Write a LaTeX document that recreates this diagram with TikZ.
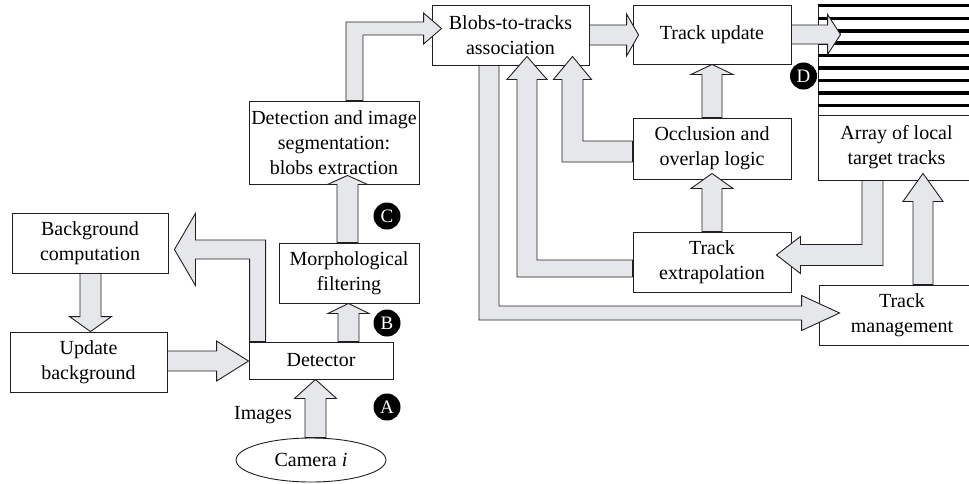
\documentclass[tikz,border=0pt]{standalone}
\usepackage{fontspec}
\setmainfont{Liberation Serif}
\usetikzlibrary{calc,shapes.geometric}

\definecolor{arrowfill}{RGB}{230,231,235}
\definecolor{ink}{RGB}{35,31,32}

% Fat block arrows, built as outlined polygons.
% #1 start point, #2 tip point, then half widths and head length.
\newcommand\fatup[5]{%
  \filldraw[fat] let \p1=(#1), \p2=(#2) in
    (\x1-#3,\y1) -- (\x1-#3,\y2-#5) -- (\x1-#4,\y2-#5) -- (\x1,\y2)
    -- (\x1+#4,\y2-#5) -- (\x1+#3,\y2-#5) -- (\x1+#3,\y1) -- cycle;}
\newcommand\fatdown[5]{%
  \filldraw[fat] let \p1=(#1), \p2=(#2) in
    (\x1-#3,\y1) -- (\x1-#3,\y2+#5) -- (\x1-#4,\y2+#5) -- (\x1,\y2)
    -- (\x1+#4,\y2+#5) -- (\x1+#3,\y2+#5) -- (\x1+#3,\y1) -- cycle;}
\newcommand\fatright[5]{%
  \filldraw[fat] let \p1=(#1), \p2=(#2) in
    (\x1,\y1+#3) -- (\x2-#5,\y1+#3) -- (\x2-#5,\y1+#4) -- (\x2,\y1)
    -- (\x2-#5,\y1-#4) -- (\x2-#5,\y1-#3) -- (\x1,\y1-#3) -- cycle;}
% bent arrows: #3 first leg half width, #4 second leg half width,
% #5 head half width, #6 head length
\newcommand\fatupright[6]{%
  \filldraw[fat] let \p1=(#1), \p2=(#2) in
    (\x1-#3,\y1) -- (\x1-#3,\y2+#4) -- (\x2-#6,\y2+#4) -- (\x2-#6,\y2+#5)
    -- (\x2,\y2) -- (\x2-#6,\y2-#5) -- (\x2-#6,\y2-#4) -- (\x1+#3,\y2-#4)
    -- (\x1+#3,\y1) -- cycle;}
\newcommand\fatupleft[6]{%
  \filldraw[fat] let \p1=(#1), \p2=(#2) in
    (\x1+#3,\y1) -- (\x1+#3,\y2+#4) -- (\x2+#6,\y2+#4) -- (\x2+#6,\y2+#5)
    -- (\x2,\y2) -- (\x2+#6,\y2-#5) -- (\x2+#6,\y2-#4) -- (\x1-#3,\y2-#4)
    -- (\x1-#3,\y1) -- cycle;}
\newcommand\fatdownright[6]{%
  \filldraw[fat] let \p1=(#1), \p2=(#2) in
    (\x1+#3,\y1) -- (\x1+#3,\y2+#4) -- (\x2-#6,\y2+#4) -- (\x2-#6,\y2+#5)
    -- (\x2,\y2) -- (\x2-#6,\y2-#5) -- (\x2-#6,\y2-#4) -- (\x1-#3,\y2-#4)
    -- (\x1-#3,\y1) -- cycle;}
\newcommand\fatdownleft[6]{%
  \filldraw[fat] let \p1=(#1), \p2=(#2) in
    (\x1-#3,\y1) -- (\x1-#3,\y2+#4) -- (\x2+#6,\y2+#4) -- (\x2+#6,\y2+#5)
    -- (\x2,\y2) -- (\x2+#6,\y2-#5) -- (\x2+#6,\y2-#4) -- (\x1+#3,\y2-#4)
    -- (\x1+#3,\y1) -- cycle;}
\newcommand\fatleftup[6]{%
  \filldraw[fat] let \p1=(#1), \p2=(#2) in
    (\x1,\y1+#3) -- (\x2+#4,\y1+#3) -- (\x2+#4,\y2-#6) -- (\x2+#5,\y2-#6)
    -- (\x2,\y2) -- (\x2-#5,\y2-#6) -- (\x2-#4,\y2-#6) -- (\x2-#4,\y1-#3)
    -- (\x1,\y1-#3) -- cycle;}

\begin{document}
\begin{tikzpicture}[x=1pt,y=-1pt,
  box/.style={draw=ink, line width=0.9pt, fill=white, inner sep=0pt,
    align=center, font=\fontsize{20}{25}\selectfont},
  fat/.style={draw=ink, line width=0.9pt, fill=arrowfill, line join=miter},
  badge/.style={circle, fill=black, text=white, inner sep=0pt,
    minimum size=27pt, font=\fontsize{19}{19}\selectfont},
  stripe/.style={line width=3.2pt, black}]
\useasboundingbox (0,0) rectangle (969,483);
\clip (0,0) rectangle (969,483);

% processing blocks
\node[box, minimum width=157pt, minimum height=60pt] (blobs) at (510.5,35) {Blobs-to-tracks\\association};
\node[box, minimum width=158pt, minimum height=59pt] (upd) at (712,34.5) {Track update};
\node[box, minimum width=157pt, minimum height=110pt] (stripes) at (896.5,60) {};
\node[box, minimum width=157pt, minimum height=65pt] (arr) at (896.5,147.5) {Array of local\\target tracks};
\node[box, minimum width=158pt, minimum height=61pt] (occl) at (712,148.5) {Occlusion and\\overlap logic};
\node[box, minimum width=158pt, minimum height=60pt] (extrap) at (712,262) {Track\\extrapolation};
\node[box, minimum width=166pt, minimum height=60pt] (mgmt) at (902,315) {Track\\management};
\node[box, minimum width=170pt, minimum height=83pt] (seg) at (334,142.5) {Detection and image\\segmentation:\\blobs extraction};
\node[box, minimum width=140pt, minimum height=60pt] (morph) at (349,273) {Morphological\\filtering};
\node[box, minimum width=144pt, minimum height=37pt] (det) at (321,360.5) {Detector};
\node[box, minimum width=156pt, minimum height=60pt] (bgc) at (90,243) {Background\\computation};
\node[box, minimum width=157pt, minimum height=60pt] (ubg) at (88.5,362) {Update\\background};
\node[box, ellipse, minimum width=150pt, minimum height=44pt] (cam) at (311,460) {Camera \textit{i}};
\node[font=\fontsize{20}{25}\selectfont] (imgs) at (263,415) {Images};

% track array stripes
\foreach \s in {6,19,31.5,43.5,56,68.5,81,93.5,106}
  \draw[stripe] ($(stripes.north west)+(0,\s-5)$) -- ($(stripes.north east)+(0,\s-5)$);

% stage markers
\node[badge] (mA) at (387,407) {A};
\node[badge] (mB) at (387,323) {B};
\node[badge] (mC) at (387,216) {C};
\node[badge] (mD) at (803.5,76) {D};

% camera -> detector
\coordinate (a0) at ([xshift=4.5pt]cam.north);
\coordinate (a1) at (a0 |- det.south);
\fatup{a0}{a1}{10.5pt}{21pt}{19pt}
% detector -> morphological filtering
\coordinate (b0) at ([xshift=27.5pt]det.north);
\coordinate (b1) at (b0 |- morph.south);
\fatup{b0}{b1}{10.5pt}{20.5pt}{10pt}
% morphological filtering -> segmentation
\coordinate (c0) at ([xshift=-1.5pt]morph.north);
\coordinate (c1) at ($(c0 |- seg.south)+(0,-9)$);
\fatup{c0}{c1}{10.5pt}{20pt}{9pt}
% segmentation -> blobs-to-tracks
\coordinate (d0) at ([xshift=20.5pt]seg.north);
\coordinate (d1) at ($(blobs.west)+(10,-6.5)$);
\fatupright{d0}{d1}{8.5pt}{6.5pt}{15.5pt}{18pt}
% blobs-to-tracks -> track update
\coordinate (e0) at (blobs.east);
\coordinate (e1) at ($(e0 -| upd.west)+(6,0)$);
\fatright{e0}{e1}{10pt}{21pt}{12pt}
% track update -> track array
\coordinate (f0) at (upd.east);
\coordinate (f1) at ($(f0 -| stripes.west)+(23,0)$);
\fatright{f0}{f1}{9.5pt}{20pt}{13pt}
% occlusion -> track update
\fatup{occl.north}{upd.south}{10pt}{21pt}{10pt}
% extrapolation -> occlusion
\coordinate (h1) at ($(occl.south)+(0,-6)$);
\fatup{extrap.north}{h1}{10pt}{21pt}{15pt}
% occlusion -> blobs-to-tracks
\coordinate (i0) at ($(occl.west)+(0,3)$);
\coordinate (i1) at ($(blobs.south)+(62,-9)$);
\fatleftup{i0}{i1}{10.5pt}{10.5pt}{19pt}{23pt}
% extrapolation -> blobs-to-tracks
\coordinate (j0) at ($(extrap.west)+(0,6.5)$);
\coordinate (j1) at ($(blobs.south)+(16.5,-9)$);
\fatleftup{j0}{j1}{8.5pt}{10pt}{20pt}{23pt}
% blobs-to-tracks -> track management
\coordinate (k0) at ($(blobs.south)+(-21.5,0)$);
\coordinate (k1) at ($(mgmt.west)+(21,-2)$);
\fatdownright{k0}{k1}{10pt}{7pt}{17.5pt}{38pt}
% track array -> extrapolation
\coordinate (l0) at ($(arr.south)+(-24,0)$);
\coordinate (l1) at ($(extrap.east)+(-15,-7)$);
\fatdownleft{l0}{l1}{10.5pt}{10.5pt}{18.5pt}{24pt}
% track management -> track array
\coordinate (m0) at ($(mgmt.north)+(21,0)$);
\coordinate (m1) at ($(m0 |- arr.south)+(0,-7)$);
\fatup{m0}{m1}{10pt}{20pt}{28pt}
% detector -> background computation
\coordinate (n0) at ($(det.north west)+(9,0)$);
\coordinate (n1) at ($(bgc.east)+(6,6.5)$);
\fatupleft{n0}{n1}{8pt}{9.5pt}{36pt}{21pt}
% background computation -> update background
\coordinate (o0) at ($(bgc.south)+(0.5,0)$);
\coordinate (o1) at (o0 |- ubg.north);
\fatdown{o0}{o1}{10.5pt}{21pt}{15pt}
% update background -> detector
\coordinate (p0) at ($(ubg.east)+(0,-1)$);
\coordinate (p1) at (p0 -| det.west);
\fatright{p0}{p1}{10pt}{20pt}{32pt}
\end{tikzpicture}
\end{document}
